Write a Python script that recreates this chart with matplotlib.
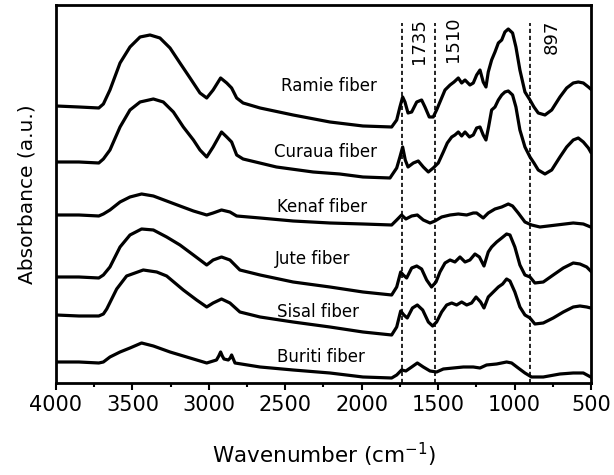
import matplotlib
matplotlib.use("Agg")
import matplotlib.pyplot as plt
from matplotlib.ticker import MultipleLocator

# FTIR spectra: (wavenumber cm-1, absorbance a.u.)
ramie = [(4000, 277), (3850, 276), (3720, 275), (3690, 279), (3647, 293), (3581, 320), (3516, 336),
         (3450, 346), (3385, 348), (3320, 345), (3254, 335), (3189, 320), (3123, 305), (3058, 290),
         (3014, 285), (2972, 293), (2923, 305), (2883, 300), (2851, 295), (2818, 285), (2776, 280),
         (2665, 275), (2449, 268), (2208, 261), (1992, 257), (1804, 256), (1771, 263), (1750, 276),
         (1732, 286), (1717, 281), (1697, 270), (1673, 271), (1640, 281), (1608, 283), (1586, 276),
         (1558, 266), (1532, 266), (1510, 273), (1488, 281), (1455, 293), (1422, 298), (1396, 301),
         (1368, 305), (1346, 300), (1324, 303), (1292, 298), (1270, 300), (1248, 308), (1226, 313),
         (1205, 301), (1187, 296), (1172, 311), (1150, 323), (1128, 331), (1106, 340), (1084, 343),
         (1063, 351), (1041, 354), (1013, 350), (991, 336), (965, 313), (932, 291), (899, 283),
         (873, 276), (845, 270), (801, 268), (757, 273), (703, 286), (659, 295), (616, 300),
         (583, 301), (550, 300), (517, 296), (502, 294)]

curaua = [(4000, 221), (3850, 221), (3720, 220), (3690, 224), (3647, 233), (3581, 256), (3516, 273),
          (3450, 281), (3363, 284), (3298, 281), (3232, 271), (3167, 256), (3101, 243), (3058, 233),
          (3014, 226), (2972, 236), (2917, 251), (2883, 246), (2851, 241), (2818, 228), (2776, 224),
          (2558, 216), (2318, 211), (2144, 209), (1992, 206), (1815, 205), (1771, 215), (1750, 226),
          (1732, 236), (1715, 223), (1697, 216), (1662, 220), (1630, 222), (1597, 216), (1564, 211),
          (1532, 215), (1499, 220), (1466, 231), (1440, 240), (1411, 246), (1390, 248), (1368, 251),
          (1346, 247), (1324, 251), (1295, 246), (1270, 248), (1248, 255), (1226, 256), (1205, 248),
          (1187, 243), (1170, 256), (1150, 273), (1128, 276), (1106, 283), (1084, 288), (1063, 291),
          (1041, 292), (1013, 288), (991, 276), (965, 253), (932, 236), (899, 226), (873, 220),
          (845, 213), (801, 209), (757, 213), (703, 226), (659, 236), (616, 243), (583, 245),
          (550, 241), (517, 235), (502, 231)]

kenaf = [(4000, 168), (3850, 168), (3720, 167), (3690, 169), (3647, 173), (3581, 181), (3516, 186),
         (3440, 189), (3363, 187), (3276, 182), (3189, 177), (3101, 172), (3014, 168), (2972, 170),
         (2917, 173), (2862, 171), (2818, 167), (2665, 165), (2449, 162), (2208, 160), (1992, 159),
         (1804, 158), (1771, 163), (1739, 168), (1711, 164), (1673, 167), (1636, 168), (1597, 163),
         (1553, 160), (1521, 162), (1477, 166), (1422, 168), (1368, 169), (1313, 168), (1270, 170),
         (1248, 170), (1205, 165), (1172, 170), (1128, 174), (1084, 176), (1041, 179), (1013, 177),
         (976, 170), (932, 161), (889, 158), (834, 156), (725, 158), (616, 160), (550, 159), (502, 156)]

jute = [(4000, 106), (3850, 106), (3720, 105), (3690, 108), (3647, 116), (3581, 136), (3516, 148),
        (3440, 154), (3363, 153), (3276, 146), (3189, 138), (3101, 128), (3014, 118), (2972, 123),
        (2917, 126), (2862, 123), (2797, 113), (2665, 108), (2449, 101), (2208, 96), (1992, 91),
        (1804, 88), (1771, 96), (1745, 111), (1728, 108), (1706, 105), (1673, 115), (1640, 117),
        (1608, 114), (1575, 103), (1543, 96), (1514, 101), (1488, 111), (1455, 120), (1422, 123),
        (1390, 121), (1357, 126), (1324, 121), (1292, 123), (1259, 129), (1230, 126), (1200, 117),
        (1172, 131), (1150, 136), (1117, 141), (1084, 145), (1052, 149), (1030, 148), (998, 136),
        (965, 118), (932, 108), (899, 106), (867, 100), (812, 101), (747, 108), (681, 115),
        (616, 120), (572, 119), (528, 116), (502, 112)]

sisal = [(4000, 68), (3850, 67), (3720, 67), (3690, 69), (3668, 74), (3603, 94), (3538, 107),
         (3429, 113), (3341, 111), (3276, 107), (3167, 93), (3080, 83), (3014, 76), (2972, 80),
         (2917, 84), (2862, 80), (2797, 71), (2665, 66), (2449, 61), (2208, 56), (1992, 51),
         (1804, 48), (1771, 56), (1745, 72), (1724, 68), (1702, 65), (1668, 75), (1636, 78),
         (1601, 73), (1564, 61), (1536, 57), (1510, 61), (1477, 71), (1444, 78), (1411, 80),
         (1379, 78), (1346, 81), (1313, 78), (1281, 80), (1252, 86), (1222, 81), (1200, 75),
         (1172, 86), (1139, 91), (1106, 96), (1078, 99), (1052, 104), (1030, 102), (998, 91),
         (965, 76), (932, 68), (899, 65), (867, 59), (812, 60), (747, 65), (681, 71), (616, 76),
         (572, 77), (528, 76), (502, 75)]

buriti = [(4000, 21), (3850, 21), (3720, 20), (3690, 21), (3647, 26), (3581, 31), (3516, 35),
          (3440, 40), (3363, 37), (3254, 31), (3145, 26), (3014, 20), (2950, 23), (2935, 27),
          (2923, 31), (2912, 27), (2901, 24), (2873, 23), (2860, 25), (2851, 28), (2840, 24),
          (2829, 20), (2665, 16), (2449, 13), (2208, 10), (1992, 6), (1804, 5), (1771, 8),
          (1739, 13), (1711, 12), (1673, 16), (1636, 20), (1597, 16), (1553, 12), (1510, 11),
          (1466, 14), (1401, 15), (1335, 16), (1270, 16), (1226, 15), (1183, 18), (1117, 19),
          (1052, 21), (1019, 20), (976, 15), (932, 10), (889, 6), (812, 6), (703, 9), (616, 10),
          (550, 10), (502, 6)]

spectra = [ramie, curaua, kenaf, jute, sisal, buriti]
names = ["Ramie fiber", "Curaua fiber", "Kenaf fiber", "Jute fiber", "Sisal fiber", "Buriti fiber"]
name_pos = [(2216, 297), (2235, 231), (2258, 176), (2322, 124), (2287, 71), (2269, 26)]

bands = [1735, 1520, 897]
band_labels = ["1735", "1510", "897"]
band_label_pos = [(1625, 342), (1405, 344), (755, 346)]

fig = plt.figure(figsize=(6.14, 4.75), dpi=100)
ax = fig.add_axes([0.0912, 0.1937, 0.8713, 0.7958])

for spec in spectra:
    wn, a = zip(*spec)
    ax.plot(wn, a, color="black", lw=2.3, solid_joinstyle="round")

for (x, y), name in zip(name_pos, names):
    ax.text(x, y, name, fontsize=12, ha="center", va="center")

ax.vlines(bands, 0, 360, colors="black", linestyles=(0, (2.5, 1.7)), lw=1.2)
for (x, y), lab in zip(band_label_pos, band_labels):
    ax.text(x, y, lab, fontsize=13, rotation=90, ha="center", va="center")

ax.set_xlim(4000, 500)
ax.set_ylim(0, 378)
ax.xaxis.set_major_locator(MultipleLocator(500))
ax.xaxis.set_minor_locator(MultipleLocator(250))
ax.tick_params(axis="x", which="major", direction="out", length=5, width=1.5, labelsize=15, pad=4)
ax.tick_params(axis="x", which="minor", direction="out", length=3, width=1.5)
ax.set_yticks([])
for s in ax.spines.values():
    s.set_linewidth(2)

ax.set_xlabel("Wavenumber (cm$^{-1}$)", fontsize=15.5, labelpad=18)
ax.set_ylabel("Absorbance (a.u.)", fontsize=14.5, labelpad=14)

fig.savefig("out.png", dpi=100)
